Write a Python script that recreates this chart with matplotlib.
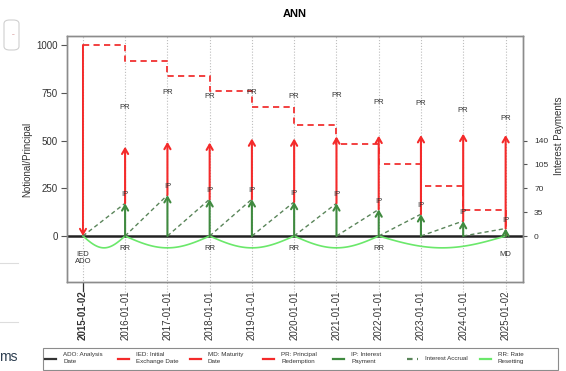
import matplotlib
matplotlib.use("Agg")
import matplotlib.pyplot as plt
import matplotlib.dates as mdates
import matplotlib.transforms as mtransforms
from matplotlib.patches import FancyArrowPatch, Rectangle, FancyBboxPatch
from matplotlib.lines import Line2D
import numpy as np
import datetime as dt

plt.rcParams['font.family'] = ['Liberation Sans', 'DejaVu Sans']

# ---------------- data ----------------
title = "ANN"
event_dates = ["2015-01-02", "2016-01-01", "2017-01-01", "2018-01-01", "2019-01-01",
               "2020-01-01", "2021-01-01", "2022-01-01", "2023-01-01", "2024-01-01",
               "2025-01-02"]
notional = [1000, 917, 838, 760, 673, 580, 481, 375, 261, 136, 0]
principal_redemption = [83, 78, 83, 89, 93, 98, 108, 116, 128, 137]
interest_payment = [48, 60, 54, 54, 50, 48, 39, 32, 22, 11]
rate_reset_dates = ["2015-01-02", "2016-01-01", "2018-01-01", "2020-01-01",
                    "2022-01-01", "2025-01-02"]
rr_label_dates = ["2016-01-01", "2018-01-01", "2020-01-01", "2022-01-01"]
pr_label_y = [671, 752, 729, 752, 729, 734, 701, 694, 659, 614]
left_ticks = [0, 250, 500, 750, 1000]
right_ticks = [0, 35, 70, 105, 140]
legend_labels = ["ADO: Analysis\nDate", "IED: Initial\nExchange Date", "MD: Maturity\nDate",
                 "PR: Principal\nRedemption", "IP: Interest\nPayment", "Interest Accrual",
                 "RR: Rate\nResetting"]

# ---------------- styles ----------------
W, H = 566, 371
RED = "#f42a2a"
RED_D = "#f24040"
GREEN = "#3f8a3f"
ACCR = "#5a855a"
RRC = "#6be86b"
GRID = "#bdbdbd"
TXT = "#333333"


def fx(p):
    return p / W


def fy(p):
    return 1 - p / H


def d2n(s):
    return mdates.date2num(dt.datetime.strptime(s, "%Y-%m-%d"))


xs = [d2n(s) for s in event_dates]

fig = plt.figure(figsize=(W / 100, H / 100), dpi=100)
fig.patch.set_facecolor("white")

L, R, T, B = 67, 523, 36, 282
ax = fig.add_axes([fx(L), fy(B), fx(R - L), (B - T) / H])
ax2 = ax.twinx()

ratio = 500 / 140
ylo, yhi = -240.8, 1047.1
ax.set_ylim(ylo, yhi)
ax2.set_ylim(ylo / ratio, yhi / ratio)
ax.set_xlim(xs[0] - 138, xs[-1] + 150)

# vertical dotted grid (extending below the frame)
trans = mtransforms.blended_transform_factory(ax.transData, ax.transAxes)
for x in xs:
    ax.plot([x, x], [-0.04, 1], transform=trans, color=GRID, lw=0.8,
            ls=(0, (1, 1.6)), clip_on=False, zorder=1)
ax.plot([xs[0], xs[0]], [-0.005, -0.035], transform=trans, color="#333333",
        lw=0.9, clip_on=False, zorder=2)

# zero line
ax.axhline(0, color="#222222", lw=1.8, zorder=2)

# rate reset arcs
rr = [d2n(s) for s in rate_reset_dates]
for a, b in zip(rr[:-1], rr[1:]):
    t = np.linspace(0, 1, 60)
    ax.plot(a + (b - a) * t, -62 * np.sin(np.pi * t), color=RRC, lw=1.2, zorder=3)

# notional step line
ax.step(xs, notional, where="post", color=RED_D, lw=1.4, ls=(0, (3.2, 2.2)), zorder=4)


def arrow(axis, x, y0, y1, color, lw=1.4, z=5):
    axis.add_patch(FancyArrowPatch((x, y0), (x, y1),
                                   arrowstyle="->,head_length=3.8,head_width=2.2",
                                   mutation_scale=1, color=color, lw=lw,
                                   shrinkA=0, shrinkB=0, zorder=z))


# IED exchange arrow
arrow(ax, xs[0], notional[0], 0, RED, lw=1.4)

# interest accrual, payments, redemptions (right axis)
for i in range(1, len(xs)):
    ip = interest_payment[i - 1]
    pr = principal_redemption[i - 1]
    ax2.plot([xs[i - 1], xs[i]], [0, ip], color=ACCR, lw=1.0, ls=(0, (3, 2.2)), zorder=3)
    arrow(ax2, xs[i], ip, ip + pr, RED, lw=1.5, z=5)
    arrow(ax2, xs[i], 0, ip, GREEN, lw=1.5, z=6)
    ax2.annotate("IP", (xs[i], ip), xytext=(0, 6), textcoords="offset points",
                 ha="center", va="center", fontsize=5.5, color=TXT, zorder=7)
    ax.text(xs[i], pr_label_y[i - 1], "PR", ha="center", va="center",
            fontsize=5.5, color=TXT, zorder=7)

for s in rr_label_dates:
    ax.text(d2n(s), -64, "RR", ha="center", va="center", fontsize=5.5, color=TXT, zorder=7)
ax.text(xs[0], -99, "IED", ha="center", va="center", fontsize=5.5, color=TXT)
ax.text(xs[0], -134, "ADO", ha="center", va="center", fontsize=5.5, color=TXT)
ax.text(xs[-1], -99, "MD", ha="center", va="center", fontsize=5.5, color=TXT)

# axes styling
ax.set_xticks(xs)
ax.set_xticklabels(event_dates, rotation=90, fontsize=7, color=TXT)
ax.get_xticklabels()[0].set_fontweight("bold")
ax.tick_params(axis="x", length=0, pad=6)
ax.set_yticks(left_ticks)
ax.set_yticklabels([str(v) for v in left_ticks], fontsize=7, color=TXT)
ax.tick_params(axis="y", length=4, width=0.8, color="#555555", pad=2.5)
ax2.set_yticks(right_ticks)
ax2.set_yticklabels([str(v) for v in right_ticks], fontsize=6, color=TXT)
ax2.tick_params(axis="y", length=3, width=0.8, color="#555555", pad=5)
for a in (ax, ax2):
    for sp in a.spines.values():
        sp.set_color("#8c8c8c")
        sp.set_linewidth(1.0)
ax2.patch.set_visible(False)

fig.text(fx(295), fy(14), title, ha="center", va="center", fontsize=8, fontweight="bold")
fig.text(fx(27), fy(159), "Notional/Principal", rotation=90, ha="center", va="center",
         fontsize=7, color=TXT)
fig.text(fx(559), fy(136), "Interest Payments", rotation=90, ha="center", va="center",
         fontsize=7, color=TXT)

# legend (manual, figure coordinates)
fig.add_artist(Rectangle((fx(43), fy(370)), fx(558 - 43), (370 - 348) / H,
                         transform=fig.transFigure, fill=False, ec="#8c8c8c", lw=0.8))
leg_x = [45, 118, 190, 263, 333, 407, 480]
leg_col = ["#333333", RED, RED, RED, GREEN, ACCR, RRC]
leg_ls = ["-", "-", "-", "-", "-", (0, (2.5, 2)), "-"]
for x0, lab, c, ls in zip(leg_x, legend_labels, leg_col, leg_ls):
    fig.add_artist(Line2D([fx(x0), fx(x0 + 11)], [fy(359), fy(359)],
                          transform=fig.transFigure, color=c, lw=1.6, ls=ls))
    fig.text(fx(x0 + 18), fy(358), lab, ha="left", va="center", fontsize=4.5,
             color=TXT, linespacing=1.7)

# screenshot surroundings on the left
fig.add_artist(FancyBboxPatch((fx(4), fy(50)), fx(15), (50 - 20) / H,
                              boxstyle="round,pad=0,rounding_size=0.01",
                              transform=fig.transFigure, fill=False, ec="#d0d0d0", lw=0.8))
fig.text(fx(14), fy(35), "--", ha="center", va="center", fontsize=4, color="#c06060")
fig.add_artist(Line2D([0, fx(18)], [fy(263), fy(263)], transform=fig.transFigure,
                      color="#dddddd", lw=0.8))
fig.add_artist(Line2D([0, fx(18)], [fy(322), fy(322)], transform=fig.transFigure,
                      color="#dddddd", lw=0.8))
fig.text(fx(18), fy(357), "ms", ha="right", va="center", fontsize=10, color="#2d3e50")

fig.savefig("out.png", dpi=100)
